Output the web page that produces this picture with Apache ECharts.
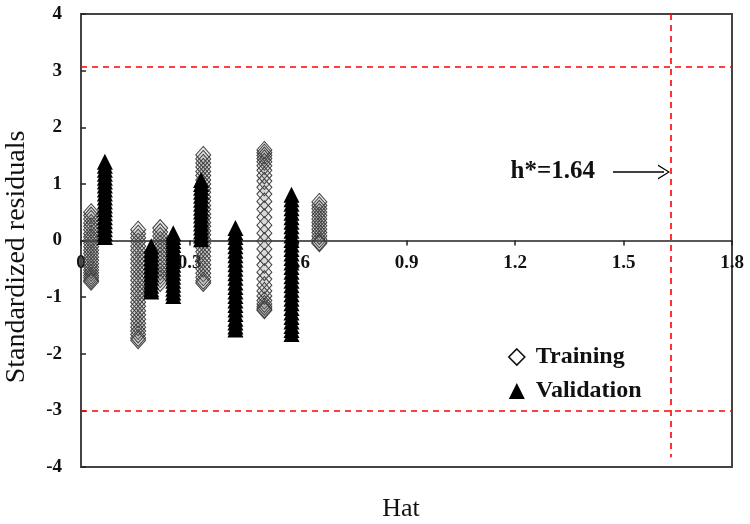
<!DOCTYPE html>
<html>
<head>
<meta charset="utf-8">
<script src="https://cdn.jsdelivr.net/npm/echarts@6/dist/echarts.min.js"></script>
<style>html,body{margin:0;padding:0;background:#fff}#c{width:750px;height:524px}</style>
</head>
<body>
<div id="c"></div>
<script>
// ---- data ----
var xTicks = [0, 0.3, 0.6, 0.9, 1.2, 1.5, 1.8];
var yTicks = [-4, -3, -2, -1, 0, 1, 2, 3, 4];

var trainingHat = [0.028, 0.158, 0.219, 0.338, 0.507, 0.659];
var trainingResiduals = [
  [0.50, 0.44, 0.38, 0.31, 0.25, 0.19, 0.12, 0.06, 0.01, -0.05, -0.11, -0.17, -0.23, -0.29, -0.35, -0.41, -0.47, -0.52, -0.57, -0.62, -0.66, -0.70, -0.73],
  [0.19, 0.12, 0.05, -0.02, -0.10, -0.17, -0.25, -0.33, -0.40, -0.48, -0.55, -0.63, -0.70, -0.78, -0.86, -0.93, -1.01, -1.09, -1.16, -1.24, -1.31, -1.39, -1.46, -1.53, -1.60, -1.66, -1.72, -1.76],
  [0.22, 0.15, 0.08, 0.01, -0.06, -0.13, -0.20, -0.27, -0.34, -0.41, -0.48, -0.55, -0.62, -0.68, -0.75],
  [1.51, 1.44, 1.37, 1.30, 1.22, 1.15, 1.07, 1.00, 0.92, 0.85, 0.77, 0.70, 0.62, 0.55, 0.47, 0.40, 0.32, 0.25, 0.17, 0.10, 0.02, -0.05, -0.13, -0.20, -0.28, -0.35, -0.43, -0.50, -0.58, -0.65, -0.71, -0.75],
  [1.60, 1.55, 1.50, 1.45, 1.39, 1.32, 1.24, 1.15, 1.05, 0.94, 0.82, 0.69, 0.55, 0.41, 0.27, 0.13, -0.01, -0.15, -0.29, -0.43, -0.56, -0.68, -0.79, -0.89, -0.98, -1.06, -1.12, -1.17, -1.21, -1.23],
  [0.68, 0.62, 0.56, 0.50, 0.44, 0.38, 0.32, 0.26, 0.20, 0.14, 0.08, 0.02, -0.03, -0.05]
];

var validationHat = [0.066, 0.194, 0.255, 0.332, 0.427, 0.582];
var validationResiduals = [
  [1.39, 1.32, 1.25, 1.18, 1.11, 1.04, 0.97, 0.90, 0.83, 0.76, 0.69, 0.62, 0.55, 0.48, 0.41, 0.34, 0.27, 0.20, 0.13, 0.06],
  [-0.10, -0.17, -0.24, -0.31, -0.38, -0.45, -0.52, -0.59, -0.66, -0.73, -0.80, -0.86, -0.90],
  [0.13, 0.06, -0.01, -0.08, -0.15, -0.22, -0.29, -0.36, -0.43, -0.50, -0.57, -0.64, -0.71, -0.78, -0.85, -0.92, -0.98],
  [1.07, 1.00, 0.93, 0.86, 0.79, 0.72, 0.65, 0.58, 0.51, 0.44, 0.37, 0.30, 0.23, 0.16, 0.09, 0.02],
  [0.22, 0.14, 0.06, -0.02, -0.10, -0.18, -0.26, -0.34, -0.42, -0.50, -0.58, -0.66, -0.74, -0.82, -0.90, -0.98, -1.06, -1.14, -1.22, -1.30, -1.38, -1.45, -1.52, -1.57],
  [0.81, 0.73, 0.65, 0.57, 0.49, 0.41, 0.33, 0.25, 0.17, 0.09, 0.01, -0.07, -0.15, -0.23, -0.31, -0.39, -0.47, -0.55, -0.63, -0.71, -0.79, -0.87, -0.95, -1.03, -1.11, -1.19, -1.27, -1.35, -1.43, -1.51, -1.58, -1.65]
];

var upperLimit = 3.07;
var lowerLimit = -3;
var hStar = 1.63;
var hStarSpan = [4, -3.83];
var hStarLabel = 'h*=1.64';
var arrowFrom = [1.471, 1.21];
var arrowTo = [1.612, 1.21];

// ---- build ----
function pairs(hats, cols) {
  var out = [];
  for (var i = 0; i < hats.length; i++) {
    for (var j = 0; j < cols[i].length; j++) out.push([hats[i], cols[i][j]]);
  }
  return out;
}

var serif = '"Liberation Serif","Times New Roman",serif';
var gridTop = 14, gridBottom = 57, H = 524;
var plotH = H - gridTop - gridBottom;
// shift the x axis (line, ticks, labels) up so it crosses at y = 0
var zeroOffset = -plotH * (0 - yTicks[0]) / (yTicks[yTicks.length - 1] - yTicks[0]);

var chart = echarts.init(document.getElementById('c'));
chart.setOption({
  animation: false,
  backgroundColor: '#fff',
  grid: { left: 81, right: 18, top: gridTop, bottom: gridBottom, show: true, borderColor: '#444', borderWidth: 2, backgroundColor: 'transparent' },
  xAxis: {
    type: 'value', min: xTicks[0], max: xTicks[xTicks.length - 1], interval: 0.3,
    position: 'bottom', offset: zeroOffset,
    axisLine: { onZero: false, lineStyle: { color: '#222', width: 1.5 } },
    axisTick: { show: true, inside: false, length: 5, lineStyle: { color: '#222', width: 1.5 } },
    axisLabel: { margin: 13, color: '#111', fontFamily: serif, fontWeight: 'bold', fontSize: 19,
      formatter: function (v) { return xTicks.indexOf(Math.round(v * 10) / 10) >= 0 ? String(Math.round(v * 10) / 10) : ''; } },
    splitLine: { show: false }
  },
  yAxis: {
    type: 'value', min: yTicks[0], max: yTicks[yTicks.length - 1], interval: 1,
    axisLine: { show: true, lineStyle: { color: '#444', width: 2 } },
    axisTick: { show: true, inside: true, length: 5, lineStyle: { color: '#222', width: 1.5 } },
    axisLabel: { margin: 19, color: '#111', fontFamily: serif, fontWeight: 'bold', fontSize: 19 },
    splitLine: { show: false }
  },
  legend: {
    orient: 'vertical', left: 503, top: 340, itemWidth: 16, itemHeight: 16, itemGap: 10,
    textStyle: { fontFamily: serif, fontWeight: 'bold', fontSize: 24, color: '#111', lineHeight: 22, padding: [0, 0, 0, 6] },
    data: [
      { name: 'Training', icon: 'diamond', itemStyle: { color: '#fff', borderColor: '#111', borderWidth: 1.6 } },
      { name: 'Validation', icon: 'triangle', itemStyle: { color: '#000', borderWidth: 0 } }
    ]
  },
  graphic: [
    { type: 'text', x: 401, y: 509, style: { text: 'Hat', font: '26px ' + serif, fill: '#111', textAlign: 'center', textVerticalAlign: 'middle' } },
    { type: 'text', x: 17, y: 257, rotation: Math.PI / 2, style: { text: 'Standardized residuals', font: '28px ' + serif, fill: '#111', textAlign: 'center', textVerticalAlign: 'middle' } }
  ],
  series: [
    {
      name: 'Training', type: 'scatter', symbol: 'diamond', symbolSize: [15, 17], z: 2,
      itemStyle: { color: 'rgba(90,90,90,0.12)', borderColor: '#3f3f3f', borderWidth: 1, opacity: 1 },
      data: pairs(trainingHat, trainingResiduals),
      markLine: {
        silent: true, symbol: ['none', 'none'], animation: false,
        label: { show: false },
        lineStyle: { color: '#ff0000', type: [6, 5], width: 1.6 },
        data: [
          { yAxis: upperLimit },
          { yAxis: lowerLimit },
          [ { coord: [hStar, hStarSpan[0]] }, { coord: [hStar, hStarSpan[1]] } ],
          [
            { coord: arrowFrom, symbol: 'none',
              lineStyle: { color: '#000', type: 'solid', width: 1.5 },
              label: { show: true, position: 'start', distance: 18, formatter: hStarLabel, color: '#111', fontFamily: serif, fontWeight: 'bold', fontSize: 25 } },
            { coord: arrowTo, symbol: 'path://M0,10 L5,0 L10,10 L9,10 L5,1.8 L1,10 Z', symbolSize: [15, 12] }
          ]
        ]
      }
    },
    {
      name: 'Validation', type: 'scatter', symbol: 'triangle', symbolSize: [16, 16], z: 3,
      itemStyle: { color: '#000', opacity: 1 },
      data: pairs(validationHat, validationResiduals)
    }
  ]
});
</script>
</body>
</html>
